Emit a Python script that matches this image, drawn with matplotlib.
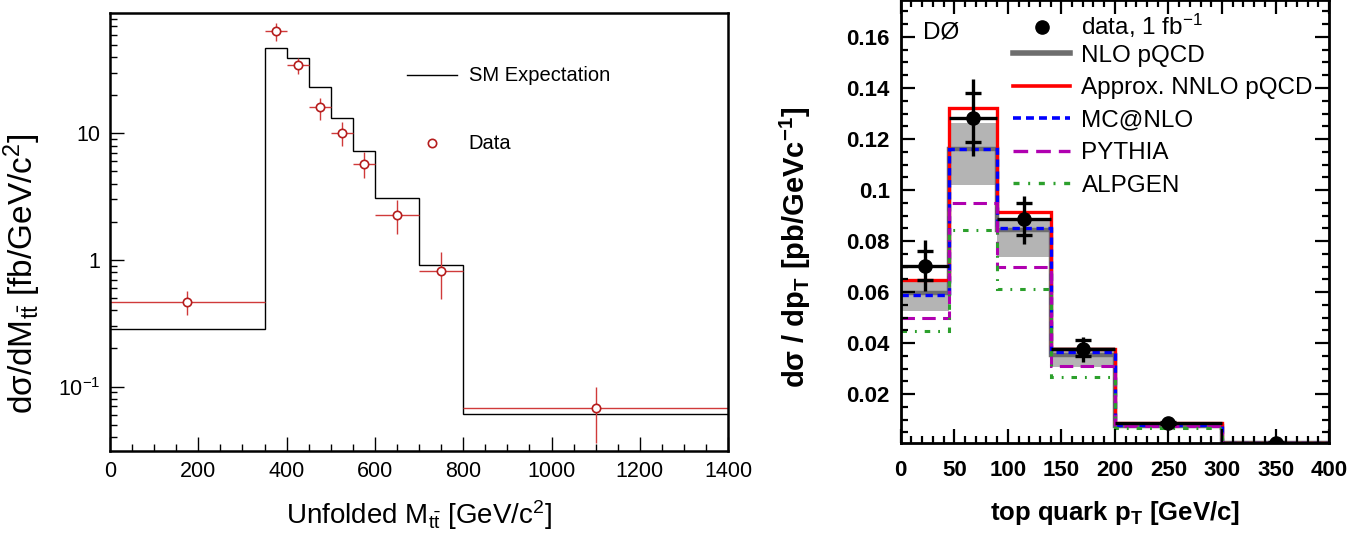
import matplotlib
matplotlib.use("Agg")
import matplotlib.pyplot as plt
from matplotlib.ticker import FixedLocator, LogLocator, MultipleLocator, NullFormatter
from matplotlib.lines import Line2D
import numpy as np

plt.rcParams['font.family'] = ['Liberation Sans', 'DejaVu Sans']
plt.rcParams['mathtext.fontset'] = 'custom'
plt.rcParams['mathtext.rm'] = 'Liberation Sans'
plt.rcParams['mathtext.it'] = 'Liberation Sans:italic'
plt.rcParams['mathtext.bf'] = 'Liberation Sans:bold'

# ---- left panel: unfolded M_tt ----
m_edges = [0, 350, 400, 450, 500, 550, 600, 700, 800, 1400]
sm_expect = [0.285, 47, 39, 23, 13.1, 7.2, 3.06, 0.91, 0.061]
m_data = [0.466, 63.7, 34.7, 16.1, 10.0, 5.7, 2.28, 0.82, 0.068]
m_err_up = [0.57, 73.6, 39.6, 19.1, 12.2, 7.1, 2.96, 1.16, 0.099]
m_err_lo = [0.37, 53.3, 29.6, 12.8, 7.9, 4.4, 1.6, 0.49, 0.036]
m_xticks = [0, 200, 400, 600, 800, 1000, 1200, 1400]
m_yticks = [0.1, 1, 10]
m_ylabels = ['$10^{-1}$', '1', '10']

# ---- right panel: top quark pT ----
pt_edges = [0, 45, 90, 140, 200, 300, 400]
pt_data = [0.0703, 0.1284, 0.0886, 0.0376, 0.0088, 0.0009]
pt_tot_hi = [0.0803, 0.1434, 0.0977, 0.0422, 0.0095, 0.0012]
pt_tot_lo = [0.0604, 0.1135, 0.0787, 0.0327, 0.0081, 0.0006]
pt_stat_hi = [0.0762, 0.1382, 0.0948, 0.0412, 0.0092, 0.0011]
pt_stat_lo = [0.0649, 0.1189, 0.0823, 0.0351, 0.0084, 0.0007]
nlo = [0.0595, 0.1160, 0.0843, 0.0353, 0.0075, 0.0008]
nlo_hi = [0.0643, 0.1261, 0.0885, 0.0385, 0.0082, 0.0010]
nlo_lo = [0.0526, 0.1019, 0.0738, 0.0307, 0.0068, 0.0007]
nnlo = [0.0649, 0.1320, 0.0912, 0.0375, 0.0085, 0.0010]
mcatnlo = [0.0589, 0.1161, 0.0853, 0.0363, 0.0078, 0.0008]
pythia = [0.0497, 0.0951, 0.0699, 0.0310, 0.0073, 0.0008]
alpgen = [0.0448, 0.0845, 0.0611, 0.0268, 0.0066, 0.0008]
pt_xticks = [0, 50, 100, 150, 200, 250, 300, 350, 400]
pt_yticks = [0.02, 0.04, 0.06, 0.08, 0.1, 0.12, 0.14, 0.16]
pt_ylabels = ['0.02', '0.04', '0.06', '0.08', '0.1', '0.12', '0.14', '0.16']

fig = plt.figure(figsize=(13.71, 5.33), dpi=100)

# left
ax1 = fig.add_axes([0.0802, 0.1538, 0.4509, 0.8218])
ax1.set_yscale('log')
ax1.stairs(sm_expect, m_edges, baseline=None, color='black', lw=1.0)
me = np.array(m_edges)
mc = (me[:-1] + me[1:]) / 2
mhw = (me[1:] - me[:-1]) / 2
md = np.array(m_data)
ax1.errorbar(mc, md, xerr=mhw, yerr=[md - np.array(m_err_lo), np.array(m_err_up) - md],
             fmt='none', ecolor='#d03a3a', elinewidth=1.0, capsize=0)
ax1.plot(mc, md, 'o', ms=6, mfc='white', mec='#b51d1d', mew=1.2)
ax1.set_xlim(0, 1400)
ax1.set_ylim(0.031, 89)
ax1.xaxis.set_major_locator(FixedLocator(m_xticks))
ax1.xaxis.set_minor_locator(MultipleLocator(50))
ax1.yaxis.set_major_locator(FixedLocator(m_yticks))
ax1.set_yticklabels(m_ylabels)
ax1.yaxis.set_minor_locator(LogLocator(base=10, subs=np.arange(2, 10)))
ax1.yaxis.set_minor_formatter(NullFormatter())
ax1.tick_params(which='both', direction='in', top=False, right=False, labelsize=15.5, width=1.0)
ax1.tick_params(which='major', length=10, pad=7)
ax1.tick_params(which='minor', length=5)
for s in ax1.spines.values():
    s.set_linewidth(1.8)
ax1.set_xlabel('Unfolded M$_{\\mathrm{t\\bar{t}}}$ [GeV/c$^{2}$]', fontsize=20)
ax1.set_ylabel('d\u03c3/dM$_{\\mathrm{t\\bar{t}}}$ [fb/GeV/c$^{2}$]', fontsize=24)
ax1.xaxis.set_label_coords(0.5, -0.108)
ax1.yaxis.set_label_coords(-0.108, 0.404)

# left legend
ax1.add_line(Line2D([0.481, 0.562], [0.858, 0.858], transform=ax1.transAxes, color='black', lw=1.0))
ax1.text(0.58, 0.858, 'SM Expectation', transform=ax1.transAxes, fontsize=14.5, va='center')
ax1.plot([0.521], [0.7025], 'o', transform=ax1.transAxes, ms=6, mfc='white', mec='#b51d1d', mew=1.2)
ax1.text(0.58, 0.7025, 'Data', transform=ax1.transAxes, fontsize=14.5, va='center')

# right
ax2 = fig.add_axes([0.657, 0.1683, 0.3124, 0.8317])
ax2.stairs(nlo_hi, pt_edges, baseline=nlo_lo, fill=True, color='#b4b4b4', lw=0)
ax2.stairs(nlo, pt_edges, baseline=None, color='#6e6e6e', lw=3.2)
ax2.stairs(nnlo, pt_edges, baseline=None, color='#ff0000', lw=2.4)
ax2.stairs(mcatnlo, pt_edges, baseline=None, color='#0000ff', lw=2.4, ls=(0, (2.2, 1.4)))
ax2.stairs(pythia, pt_edges, baseline=None, color='#b000b0', lw=2.2, ls=(0, (4.4, 2.4)))
ax2.stairs(alpgen, pt_edges, baseline=None, color='#2ca02c', lw=2.2, ls=(0, (1.8, 2.6, 0.6, 2.6)))
pe = np.array(pt_edges)
pc = (pe[:-1] + pe[1:]) / 2
phw = (pe[1:] - pe[:-1]) / 2
pd = np.array(pt_data)
ax2.errorbar(pc, pd, xerr=phw, yerr=[pd - np.array(pt_tot_lo), np.array(pt_tot_hi) - pd],
             fmt='o', color='black', ms=9.5, elinewidth=2.4, capsize=0)
ax2.errorbar(pc, pd, yerr=[pd - np.array(pt_stat_lo), np.array(pt_stat_hi) - pd],
             fmt='none', ecolor='black', elinewidth=0, capsize=6, capthick=2.4)
ax2.set_xlim(0, 400)
ax2.set_ylim(0.0007, 0.1745)
ax2.xaxis.set_major_locator(FixedLocator(pt_xticks))
ax2.xaxis.set_minor_locator(MultipleLocator(10))
ax2.yaxis.set_major_locator(FixedLocator(pt_yticks))
ax2.set_yticklabels(pt_ylabels)
ax2.yaxis.set_minor_locator(MultipleLocator(0.005))
ax2.tick_params(which='both', direction='in', top=True, right=True, labelsize=16, width=1.6)
ax2.tick_params(which='major', length=10, pad=8)
ax2.tick_params(axis='x', which='major', pad=12)
ax2.tick_params(which='minor', length=5)
for lab in ax2.get_xticklabels() + ax2.get_yticklabels():
    lab.set_fontweight('bold')
for s in ax2.spines.values():
    s.set_linewidth(2.0)
ax2.set_xlabel('top quark p$_{\\mathbf{T}}$ [GeV/c]', fontsize=18.5, fontweight='bold')
ax2.set_ylabel('d\u03c3 / dp$_{\\mathbf{T}}$ [pb/GeVc$^{\\mathbf{-1}}$]', fontsize=21, fontweight='bold')
ax2.xaxis.set_label_coords(0.5, -0.125)
ax2.yaxis.set_label_coords(-0.205, 0.443)

# right legend (text placed on baselines so the superscript row does not collide)
base = 0.0192
ax2.text(0.052, 0.932 - base, 'D\u00d8', transform=ax2.transAxes, fontsize=17.5, va='baseline')
ax2.plot([0.329], [0.94], 'o', transform=ax2.transAxes, color='black', ms=9.5)
ax2.text(0.422, 0.9398 - base, 'data, 1 fb$^{-1}$', transform=ax2.transAxes, fontsize=17.5, va='baseline')
leg_rows = [(0.8798, '#6e6e6e', 4.0, '-', 'NLO pQCD'),
            (0.8067, '#ff0000', 2.6, '-', 'Approx. NNLO pQCD'),
            (0.7345, '#0000ff', 2.6, (0, (2.2, 1.4)), 'MC@NLO'),
            (0.6594, '#b000b0', 2.4, (0, (4.4, 2.4)), 'PYTHIA'),
            (0.5865, '#2ca02c', 2.4, (0, (1.8, 2.6, 0.6, 2.6)), 'ALPGEN')]
for y, c, w, ls, name in leg_rows:
    ax2.add_line(Line2D([0.262, 0.395], [y, y], transform=ax2.transAxes, color=c, lw=w, ls=ls))
    ax2.text(0.422, y - base, name, transform=ax2.transAxes, fontsize=17.5, va='baseline')

fig.savefig('out.png', dpi=100)
